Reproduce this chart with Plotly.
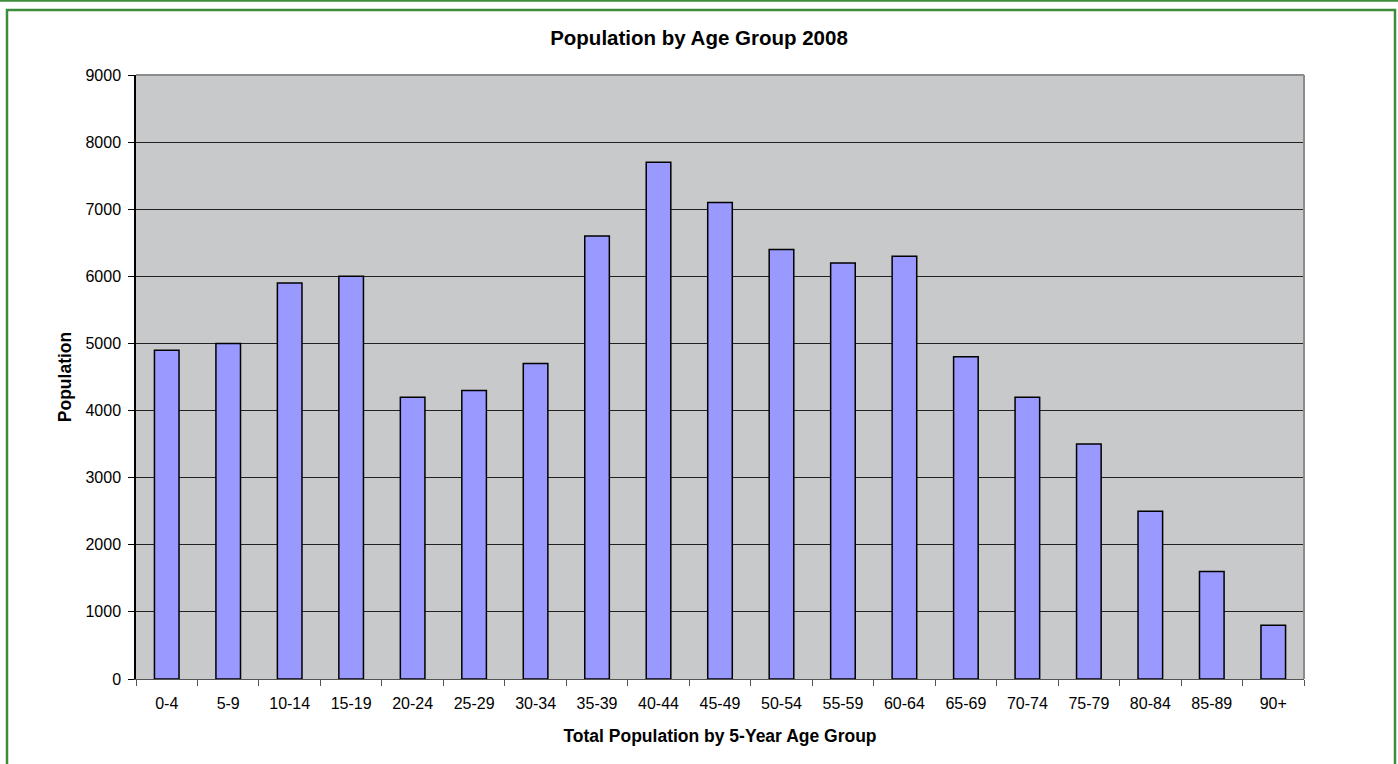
import plotly.graph_objects as go

categories = ["0-4", "5-9", "10-14", "15-19", "20-24", "25-29", "30-34", "35-39", "40-44",
              "45-49", "50-54", "55-59", "60-64", "65-69", "70-74", "75-79", "80-84", "85-89", "90+"]
population = [4900, 5000, 5900, 6000, 4200, 4300, 4700, 6600, 7700,
              7100, 6400, 6200, 6300, 4800, 4200, 3500, 2500, 1600, 800]

W, H = 1398, 764
L, R, T, B = 136, 1304, 75, 679
pw, ph = R - L, B - T

def px(x):
    return (x - L) / pw

def py(y):
    return (B - y) / ph

fig = go.Figure(go.Bar(
    x=categories, y=population,
    marker=dict(color="#9999FF", line=dict(color="black", width=1.5)),
    width=0.4,
))

shapes = [
    dict(type="rect", xref="paper", yref="paper", x0=px(7), x1=px(1395), y0=py(10), y1=py(770),
         line=dict(color="#3C8C3C", width=2.5), fillcolor="rgba(0,0,0,0)", layer="below"),
    dict(type="line", xref="paper", yref="paper", x0=px(0), x1=px(1398), y0=py(0.5), y1=py(0.5),
         line=dict(color="#3C8C3C", width=2.5)),
    dict(type="line", xref="paper", yref="paper", x0=0, x1=1, y0=1, y1=1, line=dict(color="#8C8C8C", width=2)),
    dict(type="line", xref="paper", yref="paper", x0=1, x1=1, y0=0, y1=1, line=dict(color="#8C8C8C", width=2)),
]

fig.update_layout(
    width=W, height=H,
    margin=dict(l=L, r=W - R, t=T, b=H - B),
    paper_bgcolor="white",
    plot_bgcolor="#C8C9CB",
    font=dict(family="Liberation Sans, Arial, sans-serif", size=16, color="black"),
    title=dict(text="<b>Population by Age Group 2008</b>", x=0.5, xanchor="center",
               y=1 - 38 / H, yanchor="middle", font=dict(size=20.5)),
    showlegend=False,
    bargap=0.6,
    shapes=shapes,
    xaxis=dict(
        title=dict(text="<b>Total Population by 5-Year Age Group</b>", font=dict(size=17.5), standoff=18),
        showgrid=False, showline=True, linecolor="#555555", linewidth=1,
        ticks="outside", ticklen=6, tickcolor="#555555", tickson="boundaries",
        tickfont=dict(size=16), ticklabelstandoff=10,
    ),
    yaxis=dict(
        title=dict(text="<b>Population</b>", font=dict(size=17.5), standoff=9),
        range=[0, 9000], dtick=1000, showgrid=True, gridcolor="#222222", gridwidth=1,
        showline=True, linecolor="black", linewidth=1.5,
        ticks="outside", ticklen=6, tickcolor="black",
        tickfont=dict(size=16), zeroline=False, ticklabelstandoff=4,
    ),
)

fig.write_html("out.html", post_script="document.body.style.margin='0';",
               config={"displayModeBar": False})
